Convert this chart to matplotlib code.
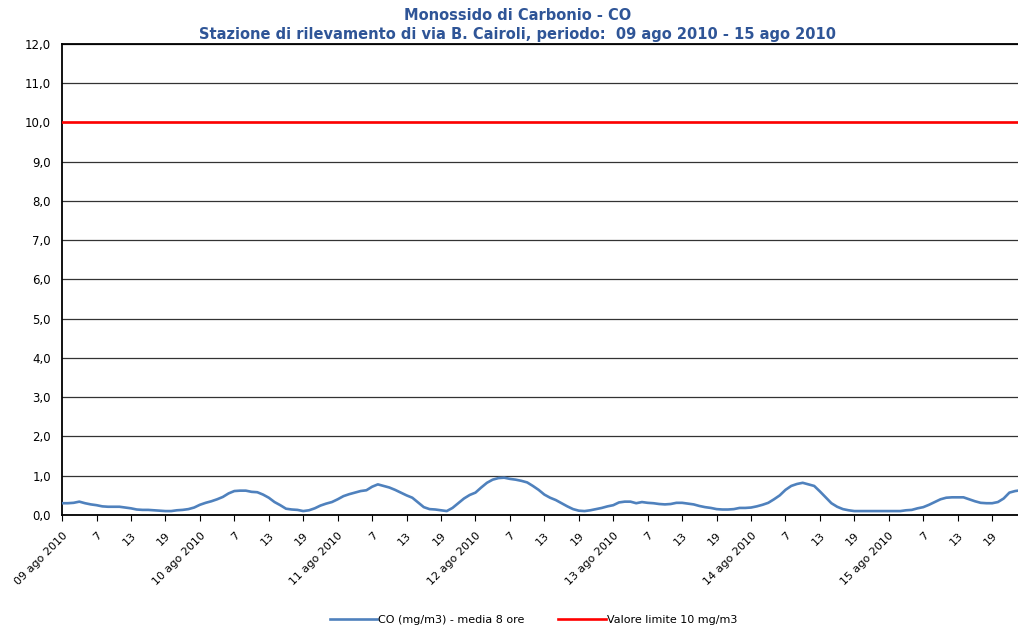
import matplotlib
matplotlib.use('Agg')
import matplotlib.pyplot as plt
import numpy as np

# CO - media mobile 8 ore, valori orari dal 09 al 15 agosto 2010 (mg/m3)
co_09 = [0.30, 0.30, 0.31, 0.34, 0.30, 0.27, 0.25, 0.22, 0.21, 0.21, 0.21, 0.19,
         0.17, 0.14, 0.13, 0.13, 0.12, 0.11, 0.10, 0.10, 0.12, 0.13, 0.15, 0.19]
co_10 = [0.26, 0.31, 0.35, 0.40, 0.46, 0.55, 0.61, 0.62, 0.62, 0.59, 0.58, 0.52,
         0.44, 0.33, 0.25, 0.16, 0.14, 0.13, 0.10, 0.12, 0.17, 0.24, 0.29, 0.33]
co_11 = [0.40, 0.48, 0.53, 0.57, 0.61, 0.63, 0.72, 0.78, 0.74, 0.70, 0.64, 0.57,
         0.50, 0.44, 0.32, 0.20, 0.15, 0.14, 0.12, 0.10, 0.18, 0.30, 0.42, 0.51]
co_12 = [0.57, 0.70, 0.82, 0.90, 0.94, 0.95, 0.92, 0.90, 0.87, 0.83, 0.74, 0.64,
         0.52, 0.44, 0.38, 0.30, 0.22, 0.15, 0.11, 0.10, 0.12, 0.15, 0.18, 0.22]
co_13 = [0.25, 0.32, 0.34, 0.34, 0.30, 0.33, 0.31, 0.30, 0.28, 0.27, 0.28, 0.31,
         0.31, 0.29, 0.27, 0.23, 0.20, 0.18, 0.15, 0.14, 0.14, 0.15, 0.18, 0.18]
co_14 = [0.19, 0.22, 0.26, 0.31, 0.40, 0.50, 0.64, 0.74, 0.79, 0.82, 0.78, 0.74,
         0.60, 0.45, 0.30, 0.21, 0.15, 0.12, 0.10, 0.10, 0.10, 0.10, 0.10, 0.10]
co_15 = [0.10, 0.10, 0.10, 0.12, 0.13, 0.17, 0.20, 0.26, 0.33, 0.40, 0.44, 0.45,
         0.45, 0.45, 0.40, 0.35, 0.31, 0.30, 0.30, 0.33, 0.42, 0.57, 0.61, 0.63]
limite = 10.0
giorni = ['09', '10', '11', '12', '13', '14', '15']
ore_label = ['7', '13', '19']

co = co_09 + co_10 + co_11 + co_12 + co_13 + co_14 + co_15
x = np.arange(len(co))

fig = plt.figure(figsize=(10.18, 6.25), dpi=100)
ax = fig.add_axes([0.061, 0.176, 0.939, 0.754])

ax.plot(x, co, color='#4F81BD', lw=1.9, label='CO (mg/m3) - media 8 ore', zorder=3)
ax.plot([x[0], x[-1]], [limite, limite], color='#FF0000', lw=1.9,
        label='Valore limite 10 mg/m3', zorder=3)

ax.set_xlim(0, 166.5)
ax.set_ylim(0, 12)
yt = np.arange(0, 13, 1)
ax.set_yticks(yt)
ax.set_yticklabels([('%.1f' % v).replace('.', ',') for v in yt], fontsize=8.5)
ax.grid(axis='y', color='#333333', lw=0.9)
ax.set_axisbelow(True)

ticks, labels = [], []
for i, g in enumerate(giorni):
    ticks.append(i * 24)
    labels.append('%s ago 2010' % g)
    for j, o in enumerate(ore_label):
        ticks.append(i * 24 + 6 * (j + 1))
        labels.append(o)
ax.set_xticks(ticks)
ax.set_xticklabels(labels, rotation=45, ha='right', rotation_mode='anchor', fontsize=8)
ax.tick_params(axis='x', length=4, direction='out', pad=7)
ax.tick_params(axis='y', length=0, pad=8)

ax.spines['right'].set_visible(False)
ax.spines['top'].set_linewidth(1.3)
ax.spines['left'].set_linewidth(1.3)
ax.spines['bottom'].set_linewidth(1.3)

fig.text(0.508, 0.976, 'Monossido di Carbonio - CO', ha='center', va='center',
         fontsize=10.5, fontweight='bold', color='#2F5597')
fig.text(0.508, 0.945, 'Stazione di rilevamento di via B. Cairoli, periodo:  09 ago 2010 - 15 ago 2010',
         ha='center', va='center', fontsize=10.5, fontweight='bold', color='#2F5597')

fig.legend(loc='lower center', bbox_to_anchor=(0.524, -0.016), ncol=2, frameon=False,
           fontsize=8, handlelength=4.3, columnspacing=3.0, handletextpad=0.1)

fig.savefig('out.png', dpi=100)
